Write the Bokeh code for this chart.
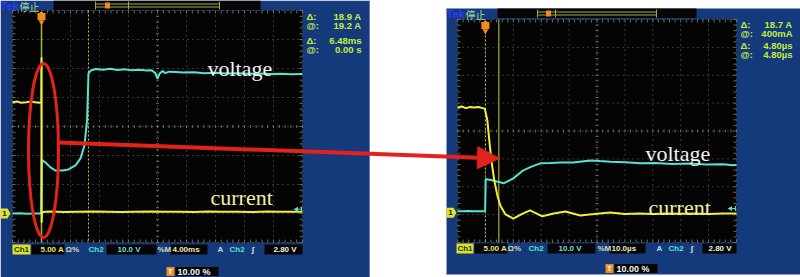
from bokeh.plotting import figure
from bokeh.models import Range1d, Arrow, NormalHead
from bokeh.core.properties import value
from bokeh.embed import file_html
from bokeh.resources import INLINE

W, H = 800, 277

# ---------------- left capture: 4 ms/div, Ch1 5 A/div, Ch2 10 V/div ----------------
left_current_t = [-4.0, -3.4, -2.8, -2.1, -1.5, -0.9, -0.3, -0.03, 0.0, 0.02, 0.07, 0.5,
                  1.5, 3.0, 5.0, 7.0, 9.0, 11.0, 13.0, 15.0, 17.0, 19.0, 21.0, 23.0,
                  25.0, 27.0, 29.0, 31.0, 33.0, 35.0, 36.0]
left_current_a = [19.2, 19.3, 19.1, 19.2, 19.3, 19.2, 19.1, 19.2, 26.9, -1.6, 0.2, 0.3,
                  0.35, 0.25, 0.3, 0.35, 0.3, 0.25, 0.3, 0.35, 0.3, 0.3, 0.25, 0.35,
                  0.3, 0.3, 0.25, 0.35, 0.3, 0.3, 0.3]

left_voltage_t = [-4.0, -3.0, -2.0, -1.0, -0.05, 0.03, 0.55, 1.24, 1.93, 2.9, 3.72, 4.69,
                  5.38, 5.93, 6.28, 6.41, 6.48, 6.8, 7.5, 8.5, 9.5, 10.5, 11.5, 12.5,
                  13.5, 14.5, 15.2, 15.7, 16.0, 16.3, 16.7, 17.1, 17.6, 18.5, 19.5, 21.0,
                  22.5, 24.0, 25.5, 27.0, 28.5, 30.0, 31.5, 33.0, 34.5, 36.0]
left_voltage_v = [-1.5, -1.4, -1.6, -1.5, -1.5, 17.0, 16.1, 14.4, 13.3, 13.3, 13.7, 15.1,
                  17.5, 22.0, 30.6, 40.9, 46.8, 47.8, 48.3, 48.1, 48.4, 48.0, 48.2, 47.9,
                  48.1, 47.8, 47.9, 46.9, 45.0, 46.8, 47.6, 46.9, 47.4, 47.3, 47.1, 47.2,
                  46.9, 47.0, 46.8, 46.9, 46.7, 46.8, 46.6, 46.7, 46.5, 46.6]

left_cursors_t = [0.0, 6.48]
left_readout = [("\u0394:", "18.9 A"), ("@:", "19.2 A"), ("\u0394:", "6.48ms"), ("@:", "0.00 s")]

# ---------------- right capture: 10 us/div, Ch1 5 A/div, Ch2 10 V/div ----------------
right_current_t = [-10.0, -8.5, -7.0, -5.5, -4.0, -2.5, -1.0, -0.2, 0.7, 1.4, 2.15, 3.2,
                   4.3, 5.4, 7.2, 10.0, 13.0, 16.0, 20.4, 24.5, 28.7, 34.0, 39.0, 44.8,
                   50.0, 55.0, 60.0, 65.0, 70.0, 75.0, 80.0, 85.0, 90.0]
right_current_a = [19.2, 19.4, 19.1, 19.3, 19.2, 19.3, 19.1, 19.0, 16.9, 13.3, 9.7, 6.1,
                   3.4, 1.6, 0.04, -0.7, 0.1, 0.75, -0.3, 0.2, 0.57, -0.15, 0.1, 0.4,
                   0.1, 0.2, 0.1, 0.2, 0.15, 0.2, 0.1, 0.2, 0.2]

right_voltage_t = [-10.0, -8.0, -6.0, -4.0, -2.0, -0.1, 0.1, 1.0, 2.5, 4.0, 5.4, 6.5,
                   10.0, 13.6, 16.5, 19.7, 23.3, 27.0, 31.5, 37.6, 41.0, 44.8, 50.0, 55.6,
                   61.0, 67.0, 73.0, 79.0, 85.0, 88.9, 90.0]
right_voltage_v = [-1.0, -1.0, -0.9, -1.0, -1.0, -1.0, 10.6, 10.4, 10.1, 9.7, 9.4, 9.0,
                   10.8, 13.7, 15.0, 16.2, 16.3, 16.5, 16.5, 17.2, 17.0, 16.8, 16.6, 16.2,
                   16.3, 16.0, 16.1, 15.8, 15.9, 15.5, 15.6]

right_cursors_t = [0.0, 4.80]
right_readout = [("\u0394:", "18.7 A"), ("@:", "400mA"), ("\u0394:", "4.80\u00b5s"), ("@:", "4.80\u00b5s")]

# ---------------- colours ----------------
PANEL = "#143a7c"
SCREEN = "#040404"
GRID = "#6d6d58"
YEL = "#f2ee3a"
CYAN = "#58e2d2"
INFO = "#c4ec3c"
RED = "#e3231b"
ORANGE = "#f08c1e"
SANS = value("Liberation Sans")
SERIF = value("Liberation Serif")
STATUS_SIZE = "8px"

p = figure(width=W, height=H, x_range=Range1d(0, W), y_range=Range1d(H, 0),
           output_backend="svg", toolbar_location=None,
           x_axis_location=None, y_axis_location=None, min_border=0)
p.grid.visible = False
p.outline_line_color = None
p.background_fill_color = "white"
p.border_fill_color = "white"


def screen_ranges(key, box, t_per_div, g1, g2):
    """Extra ranges so that time/amps/volts map onto one screen's graticule."""
    x0, x1, y0, y1 = box
    sx = (x1 - x0) / (10 * t_per_div)
    ta = -1 * t_per_div                      # trigger at 10 % of record
    p.extra_x_ranges[key + "t"] = Range1d(ta - x0 / sx, ta + (W - x0) / sx)
    div = (y1 - y0) / 8.0
    yc = (y0 + y1) / 2.0
    for name, g, per_div in ((key + "c", g1, 5.0), (key + "v", g2, 10.0)):
        gnd = yc - g * div
        s = div / per_div
        p.extra_y_ranges[name] = Range1d((gnd - H) / s, gnd / s)
    return yc - g1 * div, yc - g2 * div


def graticule(box):
    x0, x1, y0, y1 = box
    dx = (x1 - x0) / 10.0
    dy = (y1 - y0) / 8.0
    p.quad(left=x0, right=x1, top=y0, bottom=y1, fill_color=SCREEN, line_color=None)
    xs0, ys0, xs1, ys1 = [], [], [], []
    for k in range(11):
        x = x0 + k * dx
        xs0.append(x); xs1.append(x); ys0.append(y0); ys1.append(y1)
    for k in range(9):
        y = y0 + k * dy
        xs0.append(x0); xs1.append(x1); ys0.append(y); ys1.append(y)
    p.segment(xs0, ys0, xs1, ys1, line_color=GRID, line_width=1, line_dash="1 4")
    # minor ticks on the centre lines and edges
    tx0, ty0, tx1, ty1 = [], [], [], []
    xc, yc = (x0 + x1) / 2, (y0 + y1) / 2
    for k in range(51):
        x = x0 + k * dx / 5
        for yy in (yc, y0 + 1.5, y1 - 1.5):
            tx0.append(x); tx1.append(x); ty0.append(yy - 1.5); ty1.append(yy + 1.5)
    for k in range(41):
        y = y0 + k * dy / 5
        for xx in (xc, x0 + 1.5, x1 - 1.5):
            tx0.append(xx - 1.5); tx1.append(xx + 1.5); ty0.append(y); ty1.append(y)
    p.segment(tx0, ty0, tx1, ty1, line_color=GRID, line_width=1)


def top_bar(x_tek, y_top, bar, brk, ticks, orange_x):
    p.text([x_tek], [y_top + 5.5], text=["Tek"], text_font=SANS, text_font_style="bold",
           text_font_size="11px", text_color="#2b3bff", text_baseline="middle")
    p.text([x_tek + 19], [y_top + 5.5], text=["\u505c\u6b62"], text_font=value("Noto Sans CJK SC"),
           text_font_size="10px", text_color="#a9dca0", text_baseline="middle")
    p.quad(left=bar[0], right=bar[1], top=y_top, bottom=y_top + 9.5, fill_color="#060608", line_color=None)
    p.segment([brk[0], brk[0]], [y_top + 3.5, y_top + 6.5], [brk[1], brk[1]], [y_top + 3.5, y_top + 6.5],
              line_color="#a9a83a", line_width=1)
    p.segment(ticks, [y_top + 1] * len(ticks), ticks, [y_top + 9] * len(ticks),
              line_color="#a9a83a", line_width=1)
    p.quad(left=orange_x - 2.5, right=orange_x + 2.5, top=y_top + 2, bottom=y_top + 8,
           fill_color=ORANGE, line_color=None)


def trig_marker(key, y_top):
    p.rect(x=[0.0], y=[y_top + 4], width=8, height=7, width_units="screen", height_units="screen",
           fill_color=ORANGE, line_color=None, x_range_name=key + "t")
    p.scatter(x=[0.0], y=[y_top + 9.5], marker="inverted_triangle", size=6,
              fill_color=ORANGE, line_color=None, x_range_name=key + "t")
    p.segment(x0=[0.0], y0=[y_top - 0.5], x1=[0.0], y1=[y_top + 1.5], line_color=ORANGE,
              line_width=3, x_range_name=key + "t")


def readout(x_lab, x_val, ys, rows):
    for (lab, val), y in zip(rows, ys):
        p.text([x_lab], [y], text=[lab], text_font=SANS, text_font_style="bold",
               text_font_size="9.5px", text_color=INFO, text_baseline="middle")
        p.text([x_val], [y], text=[val], text_font=SANS, text_font_style="bold",
               text_font_size="9.5px", text_color=INFO, text_baseline="middle", text_align="right")


def status_bar(y, items, boxes, ch1_box, trig_box):
    for (a, b) in boxes:
        p.quad(left=a, right=b, top=y - 5, bottom=y + 5, fill_color="#050505", line_color=None)
    p.quad(left=ch1_box[0], right=ch1_box[1], top=y - 5, bottom=y + 5, fill_color="#dce22a", line_color=None)
    p.text([(ch1_box[0] + ch1_box[1]) / 2], [y], text=["Ch1"], text_font=SANS, text_font_style="bold",
           text_font_size=STATUS_SIZE, text_color="#26300a", text_baseline="middle", text_align="center")
    for (x, t, c) in items:
        p.text([x], [y], text=[t], text_font=SANS, text_font_style="bold",
               text_font_size=STATUS_SIZE, text_color=c, text_baseline="middle")
    tx, ty = trig_box
    p.quad(left=tx, right=tx + 8, top=ty - 4.5, bottom=ty + 4.5, fill_color=ORANGE, line_color=None)
    p.text([tx + 4], [ty], text=["T"], text_font=SANS, text_font_style="bold", text_font_size="8px",
           text_color="white", text_baseline="middle", text_align="center")
    p.quad(left=tx + 9, right=tx + 52, top=ty - 4.5, bottom=ty + 4.5, fill_color="#050505", line_color=None)
    p.text([tx + 11], [ty], text=["10.00 %"], text_font=SANS, text_font_style="bold",
           text_font_size="9px", text_color="#f4f4f4", text_baseline="middle")


def ground_markers(box, gnd1, gnd2, x_panel):
    x0, x1, y0, y1 = box
    p.patch([x_panel, x_panel + 7, x_panel + 10, x_panel + 7, x_panel],
            [gnd1 - 5, gnd1 - 5, gnd1, gnd1 + 5, gnd1 + 5], fill_color="#e2e22c", line_color=None)
    p.text([x_panel + 4], [gnd1], text=["1"], text_font=SANS, text_font_style="bold",
           text_font_size="8px", text_color="#202000", text_baseline="middle", text_align="center")
    p.segment([x1 - 6], [gnd2], [x1 - 1], [gnd2], line_color=CYAN, line_width=1)
    p.segment([x1 - 1], [gnd2 - 2.5], [x1 - 1], [gnd2 + 2.5], line_color=CYAN, line_width=1)
    p.scatter([x1 - 6], [gnd2], marker="triangle", angle=1.5708, size=5, fill_color=CYAN, line_color=None)


# ---------------- panels ----------------
p.quad(left=0, right=369, top=0, bottom=H, fill_color=PANEL, line_color=None)
p.segment([369], [0], [369], [H], line_color="#5f7fb5", line_width=1)
p.quad(left=446, right=W, top=8, bottom=274, fill_color=PANEL, line_color=None)
p.segment([446, 446], [8, 274], [446, W], [274, 274], line_color="#8aa0c8", line_width=1)

LBOX = (12, 302, 10, 242)
RBOX = (457, 736, 19, 242)

lg1, lg2 = screen_ranges("l", LBOX, 4.0, -3.0, -2.85)
rg1, rg2 = screen_ranges("r", RBOX, 10.0, -3.0, -2.78)

graticule(LBOX)
graticule(RBOX)

top_bar(0, 0, (53, 260), (95, 219), [95, 128, 219], 107)
top_bar(446, 8, (497, 696), (537, 656), [537, 555, 656], 548)

# cursors: left active cursor solid at t=0, right active cursor solid at 4.80 us
p.segment(x0=[left_cursors_t[0]], y0=[20], x1=[left_cursors_t[0]], y1=[LBOX[3]],
          line_color="#a4bc34", line_width=1.5, x_range_name="lt")
p.segment(x0=[left_cursors_t[1]], y0=[LBOX[2]], x1=[left_cursors_t[1]], y1=[LBOX[3]],
          line_color="#c4c25a", line_width=1, line_dash="2 2", x_range_name="lt")
p.segment(x0=[right_cursors_t[0]], y0=[RBOX[2] + 12], x1=[right_cursors_t[0]], y1=[RBOX[3]],
          line_color="#c4c25a", line_width=1, line_dash="2 2", x_range_name="rt")
p.segment(x0=[right_cursors_t[1]], y0=[RBOX[2]], x1=[right_cursors_t[1]], y1=[RBOX[3]],
          line_color="#8c8a2c", line_width=1.5, x_range_name="rt")

# traces
p.line(left_voltage_t, left_voltage_v, x_range_name="lt", y_range_name="lv", line_color=CYAN, line_width=2)
p.line(left_current_t, left_current_a, x_range_name="lt", y_range_name="lc", line_color=YEL, line_width=2)
p.line(right_voltage_t, right_voltage_v, x_range_name="rt", y_range_name="rv", line_color=CYAN, line_width=2)
p.line(right_current_t, right_current_a, x_range_name="rt", y_range_name="rc", line_color=YEL, line_width=2)

trig_marker("l", LBOX[2] + 2)
trig_marker("r", RBOX[2] + 2)

ground_markers(LBOX, lg1, lg2, 0)
ground_markers(RBOX, rg1 - 2, rg2, 446)

readout(306, 361, [16, 25, 40, 49], left_readout)
readout(740, 792, [24, 32.5, 45, 53.5], right_readout)

# trace labels
for x, y, t, c in ((207, 68, "voltage", "#f2f2f2"), (210, 197, "current", "#f2f0a2"),
                   (645, 153, "voltage", "#f2f2f2"), (648, 207, "current", "#f2f0a2")):
    p.text([x], [y], text=[t], text_font=SERIF, text_font_size="22px", text_color=c,
           text_baseline="alphabetic")

status_bar(249,
           [(40, "5.00 A", "#e6e46a"), (65, "\u03a9%", "#d8d8b0"), (88, "Ch2", CYAN),
            (117, "10.0 V", "#7adcd8"), (157, "%M", "#d8d8b0"), (172, "4.00ms", "#ecebb8"),
            (217, "A", "#b8e0e0"), (229, "Ch2", CYAN), (251, "\u0283", "#e8e8e8"), (273, "2.80 V", "#f0f0e0")],
           [(31, 64), (106, 156), (170, 207), (264, 302)], (12, 30), (166, 271))
status_bar(248,
           [(483, "5.00 A", "#e6e46a"), (507, "\u03a9%", "#d8d8b0"), (528, "Ch2", CYAN),
            (558, "10.0 V", "#7adcd8"), (597, "%M", "#d8d8b0"), (611, "10.0\u00b5s", "#ecebb8"),
            (656, "A", "#b8e0e0"), (668, "Ch2", CYAN), (690, "\u0283", "#e8e8e8"), (708, "2.80 V", "#f0f0e0")],
           [(474, 507), (547, 595), (609, 645), (702, 736)], (456, 473), (605, 268))

# highlight of the switching instant and pointer to the zoomed capture
p.ellipse(x=[43], y=[150], width=30, height=174, fill_color=None, line_color=RED, line_width=3)
p.add_layout(Arrow(x_start=58, y_start=142, x_end=499, y_end=158, line_color=RED, line_width=4,
                   end=NormalHead(size=22, fill_color=RED, line_color=RED)))

open("out.html", "w").write(file_html(p, INLINE))
